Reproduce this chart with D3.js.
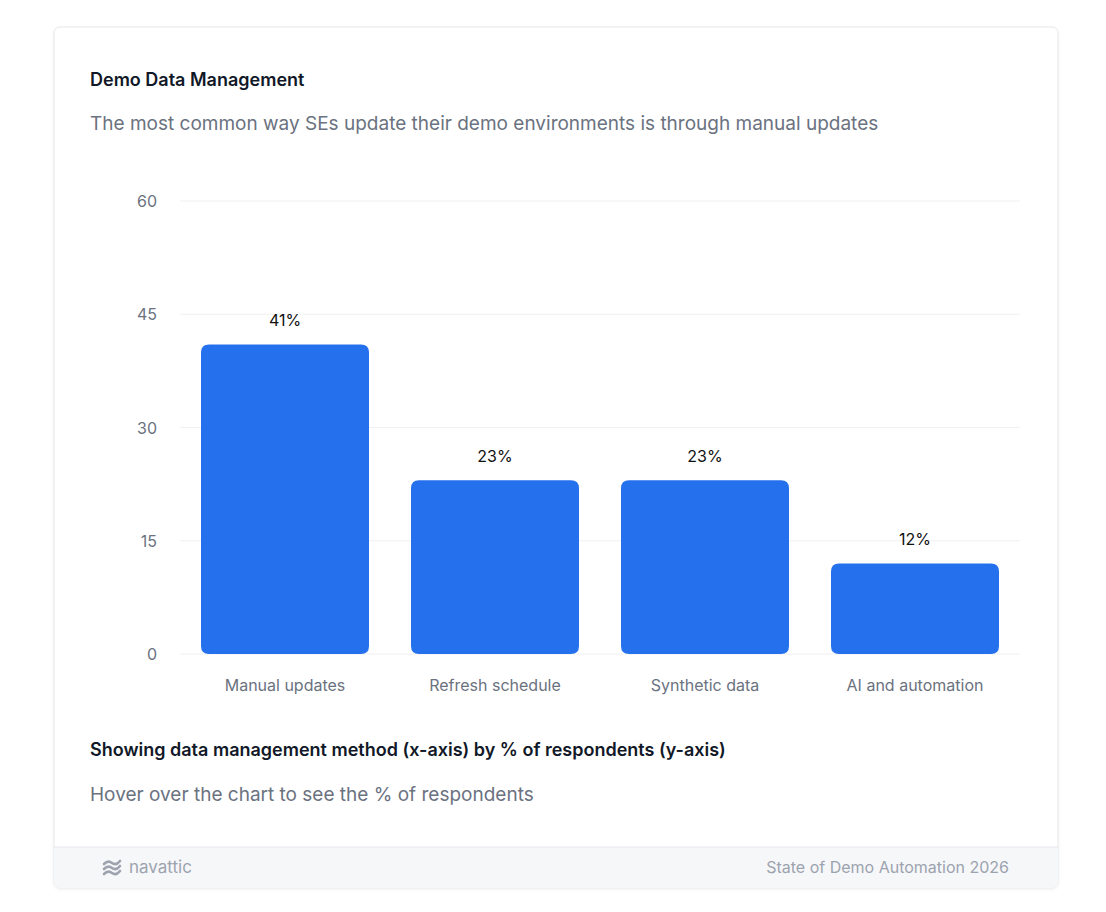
<!DOCTYPE html>
<html><head><meta charset="utf-8">
<script src="https://cdn.jsdelivr.net/npm/d3@7"></script>
<style>
body{margin:0;background:#fff;font-family:Inter,"Noto Sans",sans-serif;}
</style></head><body>
<svg id="c" width="1106" height="912"></svg>
<script>
const categories=["Manual updates","Refresh schedule","Synthetic data","AI and automation"];
const values=[41,23,23,12];
const yTicks=[0,15,30,45,60];

const svg=d3.select("#c");
const defs=svg.append("defs");
const f=defs.append("filter").attr("id","sh").attr("x","-5%").attr("y","-5%").attr("width","110%").attr("height","110%");
f.append("feDropShadow").attr("dx",0).attr("dy",1).attr("stdDeviation",1.5).attr("flood-color","#000").attr("flood-opacity",0.06);
defs.append("clipPath").attr("id","cardclip").append("rect").attr("x",54).attr("y",27).attr("width",1004).attr("height",861).attr("rx",6);

svg.append("rect").attr("x",54).attr("y",27).attr("width",1004).attr("height",861).attr("rx",6)
 .attr("fill","#fff").attr("stroke","#e5e7eb").attr("filter","url(#sh)");
const g0=svg.append("g").attr("clip-path","url(#cardclip)");
g0.append("rect").attr("x",54).attr("y",847).attr("width",1004).attr("height",41).attr("fill","#f6f7f9");
g0.append("line").attr("x1",54).attr("x2",1058).attr("y1",847).attr("y2",847).attr("stroke","#e5e7eb");

svg.append("text").attr("x",90).attr("y",86).text("Demo Data Management")
 .attr("font-size",18).attr("font-weight",600).attr("fill","#111827");
svg.append("text").attr("x",90).attr("y",130).text("The most common way SEs update their demo environments is through manual updates")
 .attr("font-size",19).attr("fill","#6b7280");

const x=d3.scaleBand().domain(categories).range([180,1020]).paddingInner(0.2).paddingOuter(0.1);
const y=d3.scaleLinear().domain([0,60]).range([654,201]);

svg.append("g").selectAll("line").data(yTicks).join("line")
 .attr("x1",180).attr("x2",1020).attr("y1",d=>y(d)).attr("y2",d=>y(d)).attr("stroke","#f0f0f0");
svg.append("g").selectAll("text").data(yTicks).join("text")
 .attr("x",157).attr("y",d=>y(d)+6).attr("text-anchor","end").attr("font-size",16).attr("fill","#6b7280").text(d=>d);

const r=8;
svg.append("g").selectAll("path").data(values).join("path")
 .attr("fill","#2570ed")
 .attr("d",(d,i)=>{const x0=x(categories[i]),w=x.bandwidth(),y0=y(d),y1=y(0);
   return `M${x0},${y1-r}V${y0+r}Q${x0},${y0} ${x0+r},${y0}H${x0+w-r}Q${x0+w},${y0} ${x0+w},${y0+r}V${y1-r}Q${x0+w},${y1} ${x0+w-r},${y1}H${x0+r}Q${x0},${y1} ${x0},${y1-r}Z`;});
svg.append("g").selectAll("text").data(values).join("text")
 .attr("x",(d,i)=>x(categories[i])+x.bandwidth()/2).attr("y",d=>y(d)-18)
 .attr("text-anchor","middle").attr("font-size",16).attr("fill","#111").text(d=>d+"%");
svg.append("g").selectAll("text").data(categories).join("text")
 .attr("x",d=>x(d)+x.bandwidth()/2).attr("y",691).attr("text-anchor","middle")
 .attr("font-size",16).attr("fill","#6b7280").text(d=>d);

svg.append("text").attr("x",90).attr("y",756).text("Showing data management method (x-axis) by % of respondents (y-axis)")
 .attr("font-size",18).attr("font-weight",600).attr("fill","#111827");
svg.append("text").attr("x",90).attr("y",801).text("Hover over the chart to see the % of respondents")
 .attr("font-size",19).attr("fill","#6b7280");

const lg=svg.append("g").attr("fill","none").attr("stroke","#9ca3af").attr("stroke-width",2.6).attr("stroke-linecap","round");
[0,5,10].forEach(o=>lg.append("path").attr("d",`M104,${864+o}q4,-4 8,-1t8,-2`));
svg.append("text").attr("x",129).attr("y",873).text("navattic").attr("font-size",17).attr("fill","#9ca3af");
svg.append("text").attr("x",1009).attr("y",873).attr("text-anchor","end").text("State of Demo Automation 2026").attr("font-size",16).attr("fill","#9ca3af");
</script></body></html>
